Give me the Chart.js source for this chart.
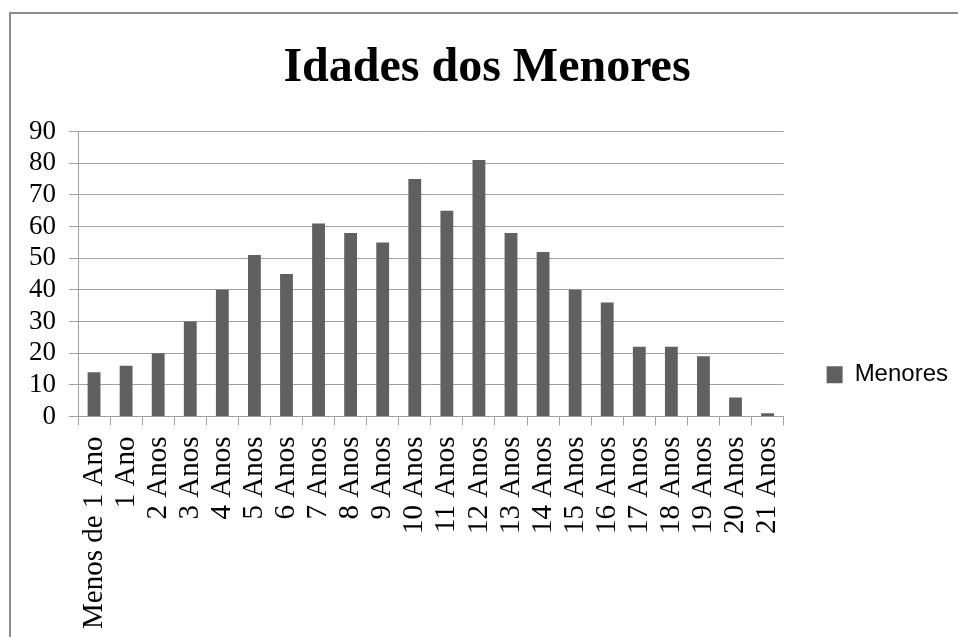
<!DOCTYPE html>
<html>
<head>
<meta charset="utf-8">
<script src="https://cdn.jsdelivr.net/npm/chart.js@4/dist/chart.umd.min.js"></script>
<style>
  html, body { margin: 0; padding: 0; background: #fff; overflow: hidden; }
  #wrap { position: relative; width: 958px; height: 637px; overflow: hidden; }
  #frame { position: absolute; left: 9px; top: 12px; width: 1000px; height: 700px; border: 2px solid #8c8c8c; }
  #myChart { position: absolute; left: 0; top: 0; }
</style>
</head>
<body>
<div id="wrap">
  <div id="frame"></div>
  <canvas id="myChart" width="958" height="637"></canvas>
</div>
<script>
// dados do gráfico
const categorias = ['Menos de 1 Ano', '1 Ano', '2 Anos', '3 Anos', '4 Anos', '5 Anos', '6 Anos', '7 Anos',
  '8 Anos', '9 Anos', '10 Anos', '11 Anos', '12 Anos', '13 Anos', '14 Anos', '15 Anos', '16 Anos',
  '17 Anos', '18 Anos', '19 Anos', '20 Anos', '21 Anos'];
const menores = [14, 16, 20, 30, 40, 51, 45, 61, 58, 55, 75, 65, 81, 58, 52, 40, 36, 22, 22, 19, 6, 1];
const titulo = 'Idades dos Menores';
const rotuloSerie = 'Menores';

const cinza = '#a0a0a0';
const serif = 'Liberation Serif';

const ctx = document.getElementById('myChart').getContext('2d');
const myChart = new Chart(ctx, {
  type: 'bar',
  data: {
    labels: categorias,
    datasets: [{
      label: rotuloSerie,
      data: menores,
      backgroundColor: '#606060',
      borderWidth: 0,
      barPercentage: 0.4,
      categoryPercentage: 1.0
    }]
  },
  options: {
    responsive: false,
    devicePixelRatio: 1,
    animation: false,
    layout: { padding: { left: 16, right: 0, top: 0, bottom: -3 } },
    plugins: {
      tooltip: { enabled: false },
      title: {
        display: true,
        text: titulo,
        color: '#000',
        font: { family: serif, size: 48, weight: 'bold' },
        padding: { top: 40, bottom: 34 }
      },
      legend: {
        position: 'right',
        // titulo vazio só para baixar a legenda
        title: { display: true, text: ' ', font: { size: 12 }, padding: { top: 95, bottom: 0 } },
        labels: {
          color: '#000',
          font: { family: 'Liberation Sans', size: 24 },
          boxWidth: 16,
          boxHeight: 17,
          padding: 43
        }
      }
    },
    scales: {
      x: {
        grid: { drawOnChartArea: false, drawTicks: true, tickLength: 9, color: cinza },
        border: { color: cinza, width: 1 },
        ticks: {
          color: '#000',
          font: { family: serif, size: 29 },
          minRotation: 90,
          maxRotation: 90,
          autoSkip: false,
          padding: 11
        }
      },
      y: {
        min: 0,
        max: 90,
        grid: { color: cinza, tickLength: 9 },
        border: { color: cinza, width: 1 },
        ticks: {
          stepSize: 10,
          autoSkip: false,
          color: '#000',
          font: { family: serif, size: 27 },
          padding: 13
        }
      }
    }
  }
});
</script>
</body>
</html>
